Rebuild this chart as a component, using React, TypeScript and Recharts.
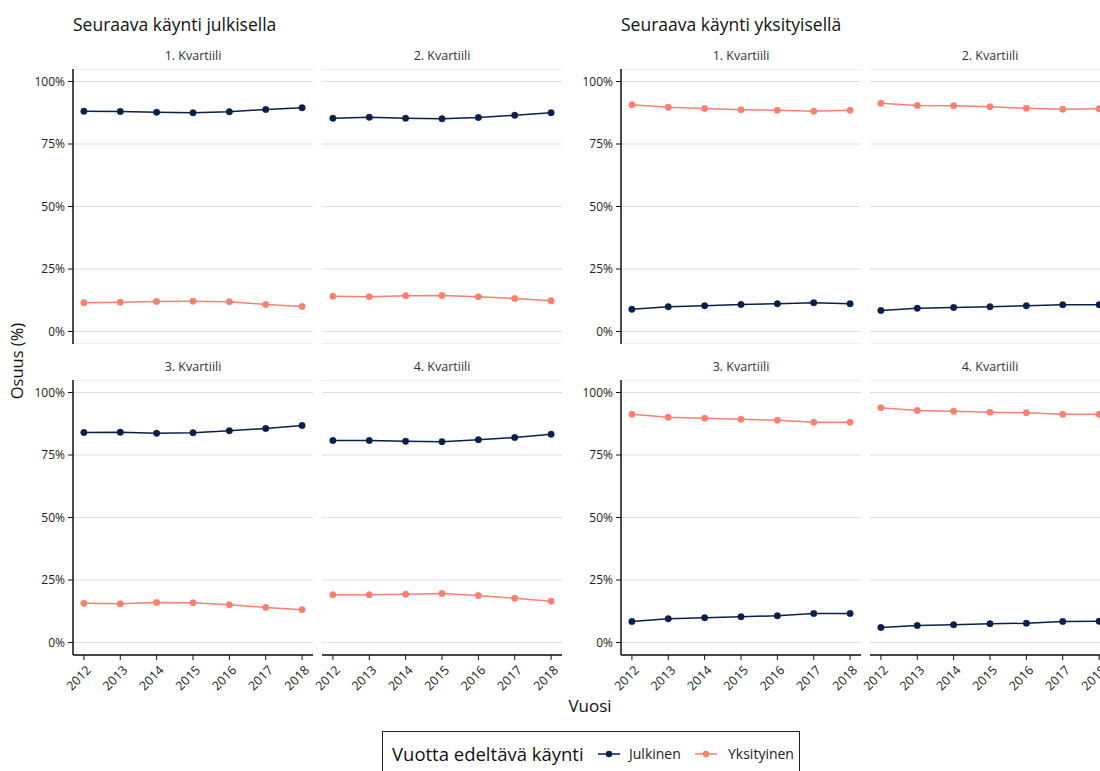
import React from "react";
import { CartesianGrid, Line, LineChart, XAxis, YAxis } from "recharts";

const years = [2012, 2013, 2014, 2015, 2016, 2017, 2018];
const yTicks = [0, 0.25, 0.5, 0.75, 1];
const quartiles = ["1. Kvartiili", "2. Kvartiili", "3. Kvartiili", "4. Kvartiili"];
const groups = ["Seuraava käynti julkisella", "Seuraava käynti yksityisellä"];

// Seuraava käynti julkisella
const julkQ1Julkinen = [0.881, 0.88, 0.877, 0.875, 0.879, 0.888, 0.895];
const julkQ1Yksityinen = [0.115, 0.117, 0.12, 0.121, 0.119, 0.108, 0.1];
const julkQ2Julkinen = [0.853, 0.857, 0.853, 0.851, 0.856, 0.865, 0.875];
const julkQ2Yksityinen = [0.141, 0.139, 0.143, 0.144, 0.139, 0.132, 0.123];
const julkQ3Julkinen = [0.84, 0.841, 0.837, 0.839, 0.847, 0.856, 0.868];
const julkQ3Yksityinen = [0.157, 0.155, 0.16, 0.159, 0.151, 0.14, 0.131];
const julkQ4Julkinen = [0.808, 0.808, 0.805, 0.803, 0.811, 0.82, 0.833];
const julkQ4Yksityinen = [0.191, 0.191, 0.193, 0.196, 0.188, 0.177, 0.165];

// Seuraava käynti yksityisellä
const yksQ1Julkinen = [0.089, 0.099, 0.103, 0.108, 0.111, 0.115, 0.111];
const yksQ1Yksityinen = [0.907, 0.897, 0.892, 0.887, 0.885, 0.881, 0.885];
const yksQ2Julkinen = [0.084, 0.093, 0.096, 0.099, 0.103, 0.107, 0.107];
const yksQ2Yksityinen = [0.913, 0.904, 0.903, 0.899, 0.893, 0.889, 0.891];
const yksQ3Julkinen = [0.084, 0.095, 0.099, 0.103, 0.107, 0.116, 0.116];
const yksQ3Yksityinen = [0.913, 0.901, 0.897, 0.893, 0.889, 0.881, 0.881];
const yksQ4Julkinen = [0.06, 0.068, 0.071, 0.075, 0.077, 0.084, 0.085];
const yksQ4Yksityinen = [0.939, 0.928, 0.925, 0.921, 0.919, 0.913, 0.913];

const NAVY = "#0b1f4b";
const SALMON = "#fa8072";
const FONT = "'Open Sans', sans-serif";

const PW = 240;
const PH = 275;
const YW = 60;
const XH = 50;

function YearTick(props: any) {
  const { x, y, payload } = props;
  return (
    <text
      x={x + 8}
      y={y + 9}
      transform={`rotate(-45, ${x + 8}, ${y + 9})`}
      textAnchor="end"
      fontSize={12.5}
      fill="#222"
      fontFamily={FONT}
    >
      {payload.value}
    </text>
  );
}

function Panel({
  left,
  top,
  title,
  julkinen,
  yksityinen,
  showY,
  showX,
}: {
  left: number;
  top: number;
  title: string;
  julkinen: number[];
  yksityinen: number[];
  showY: boolean;
  showX: boolean;
}) {
  const data = years.map((year, i) => ({
    year,
    Julkinen: julkinen[i],
    Yksityinen: yksityinen[i],
  }));
  // room on the left for the y axis, or for the rotated year labels
  const padLeft = showY ? 0 : 30;
  const offX = showY ? YW : padLeft;
  return (
    <>
      <div
        style={{
          position: "absolute",
          left,
          top: top - 22,
          width: PW,
          textAlign: "center",
          fontSize: 12.5,
          color: "#333",
          fontFamily: FONT,
        }}
      >
        {title}
      </div>
      <div style={{ position: "absolute", left: left - offX, top }}>
        <LineChart
          width={PW + offX}
          height={PH + (showX ? XH : 0)}
          data={data}
          margin={{ top: 0, right: 0, bottom: 0, left: padLeft }}
        >
          <CartesianGrid vertical={false} stroke="#dedede" strokeWidth={1} />
          <XAxis
            type="number"
            dataKey="year"
            domain={[2011.7, 2018.3]}
            ticks={years}
            interval={0}
            allowDataOverflow
            hide={!showX}
            height={XH}
            axisLine={{ stroke: "#111", strokeWidth: 1.5 }}
            tickLine={{ stroke: "#111" }}
            tickSize={5}
            tick={<YearTick />}
          />
          <YAxis
            type="number"
            domain={[-0.05, 1.05]}
            ticks={yTicks}
            interval={0}
            allowDataOverflow
            hide={!showY}
            width={YW}
            axisLine={{ stroke: "#111", strokeWidth: 1.5 }}
            tickLine={{ stroke: "#111" }}
            tickSize={5}
            tickMargin={3}
            tick={{ fontSize: 12, fill: "#222", fontFamily: FONT }}
            tickFormatter={(v: number) => `${Math.round(v * 100)}%`}
          />
          <Line
            dataKey="Julkinen"
            stroke={NAVY}
            strokeWidth={1.5}
            dot={{ r: 3.2, fill: NAVY, stroke: NAVY, strokeWidth: 0.5 }}
            isAnimationActive={false}
          />
          <Line
            dataKey="Yksityinen"
            stroke={SALMON}
            strokeWidth={1.5}
            dot={{ r: 3.2, fill: SALMON, stroke: SALMON, strokeWidth: 0.5 }}
            isAnimationActive={false}
          />
        </LineChart>
      </div>
    </>
  );
}

export default function App() {
  const tops = [68.5, 379.5];
  const lefts = [73, 322, 621, 870];
  const panels = [
    { g: 0, q: 0, j: julkQ1Julkinen, y: julkQ1Yksityinen },
    { g: 0, q: 1, j: julkQ2Julkinen, y: julkQ2Yksityinen },
    { g: 0, q: 2, j: julkQ3Julkinen, y: julkQ3Yksityinen },
    { g: 0, q: 3, j: julkQ4Julkinen, y: julkQ4Yksityinen },
    { g: 1, q: 0, j: yksQ1Julkinen, y: yksQ1Yksityinen },
    { g: 1, q: 1, j: yksQ2Julkinen, y: yksQ2Yksityinen },
    { g: 1, q: 2, j: yksQ3Julkinen, y: yksQ3Yksityinen },
    { g: 1, q: 3, j: yksQ4Julkinen, y: yksQ4Yksityinen },
  ];

  return (
    <div
      style={{
        position: "absolute",
        left: 0,
        top: 0,
        width: 1100,
        height: 771,
        overflow: "hidden",
        background: "#fff",
        fontFamily: FONT,
      }}
    >
      {groups.map((g, i) => (
        <div
          key={g}
          style={{ position: "absolute", left: lefts[i * 2], top: 12, fontSize: 17.5, color: "#111", whiteSpace: "nowrap" }}
        >
          {g}
        </div>
      ))}
      {panels.map((p) => {
        const col = p.g * 2 + (p.q % 2);
        const row = p.q < 2 ? 0 : 1;
        return (
          <Panel
            key={`${p.g}-${p.q}`}
            left={lefts[col]}
            top={tops[row]}
            title={quartiles[p.q]}
            julkinen={p.j}
            yksityinen={p.y}
            showY={p.q % 2 === 0}
            showX={row === 1}
          />
        );
      })}
      <div
        style={{
          position: "absolute",
          left: 16,
          top: 361,
          transform: "translate(-50%, -50%) rotate(-90deg)",
          fontSize: 16.5,
          color: "#111",
          whiteSpace: "nowrap",
        }}
      >
        Osuus (%)
      </div>
      <div
        style={{
          position: "absolute",
          left: 590,
          top: 705,
          transform: "translate(-50%, -50%)",
          fontSize: 17,
          color: "#111",
        }}
      >
        Vuosi
      </div>
      <div
        style={{
          position: "absolute",
          left: 382,
          top: 731,
          width: 418,
          height: 60,
          border: "1px solid #222",
          boxSizing: "border-box",
        }}
      >
        <div style={{ position: "absolute", left: 9, top: 9, fontSize: 18.5, color: "#111", whiteSpace: "nowrap" }}>
          Vuotta edeltävä käynti
        </div>
        <svg style={{ position: "absolute", left: 214, top: 16 }} width={24} height={12}>
          <line x1={1} y1={6} x2={23} y2={6} stroke={NAVY} strokeWidth={1.5} />
          <circle cx={12} cy={6} r={3.2} fill={NAVY} />
        </svg>
        <div style={{ position: "absolute", left: 246, top: 12, fontSize: 14, color: "#222", whiteSpace: "nowrap" }}>
          Julkinen
        </div>
        <svg style={{ position: "absolute", left: 311, top: 16 }} width={24} height={12}>
          <line x1={1} y1={6} x2={23} y2={6} stroke={SALMON} strokeWidth={1.5} />
          <circle cx={12} cy={6} r={3.2} fill={SALMON} />
        </svg>
        <div style={{ position: "absolute", left: 345, top: 12, fontSize: 14, color: "#222", whiteSpace: "nowrap" }}>
          Yksityinen
        </div>
      </div>
    </div>
  );
}
